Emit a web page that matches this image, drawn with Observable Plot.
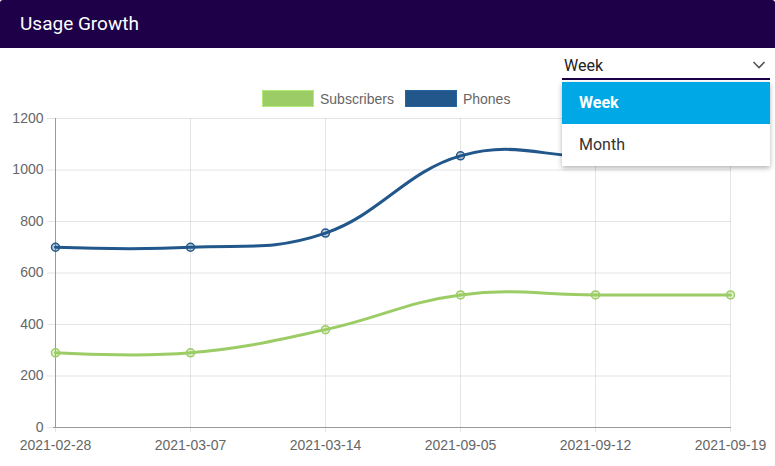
<!DOCTYPE html>
<html>
<head>
<meta charset="utf-8">
<script src="https://cdn.jsdelivr.net/npm/d3@7"></script>
<script src="https://cdn.jsdelivr.net/npm/@observablehq/plot@0.6"></script>
<style>
  html, body { margin: 0; padding: 0; background: #fff; }
  body { width: 775px; height: 466px; position: relative; overflow: hidden; font-family: Roboto, "Liberation Sans", Arial, sans-serif; }
  .header { position: absolute; left: 0; top: 0; width: 775px; height: 48px; background: #1d0047; border-radius: 3px 3px 0 0; }
  .header span { position: absolute; left: 20px; top: 12px; color: #fff; font-size: 19px; font-family: Roboto, sans-serif; }
  #chart { position: absolute; left: 0; top: 48px; }
  .legend { position: absolute; top: 90px; left: 262px; font-family: "Liberation Sans", Arial, sans-serif; font-size: 14px; color: #666; display: flex; align-items: center; }
  .legend .sw { width: 52px; height: 17px; display: inline-block; margin-right: 6px; box-sizing: border-box; }
  .legend .item { display: flex; align-items: center; margin-right: 11px; }
  .select { position: absolute; left: 562px; top: 54px; width: 208px; height: 24px; border-bottom: 2px solid #1d0047; font-family: Roboto, sans-serif; font-size: 16px; color: #222; }
  .select .val { position: absolute; left: 2px; top: 2px; }
  .select svg { position: absolute; right: 4px; top: 6px; }
  .menu { position: absolute; left: 562px; top: 82px; width: 208px; height: 84px; background: #fff; box-shadow: 0 2px 5px rgba(0,0,0,0.3); font-family: Roboto, sans-serif; font-size: 16px; }
  .menu .opt { height: 42px; line-height: 42px; padding-left: 17px; color: #333; }
  .menu .opt.sel { background: #00a9e6; color: #fff; font-weight: bold; }
</style>
</head>
<body>
<div class="header"><span>Usage Growth</span></div>
<div id="chart"></div>
<div class="legend" id="legend"></div>
<div class="select"><span class="val">Week</span>
  <svg width="14" height="10" viewBox="0 0 14 10"><path d="M1.5 2 L7 7.5 L12.5 2" fill="none" stroke="#555" stroke-width="1.6"/></svg>
</div>
<div class="menu"><div class="opt sel">Week</div><div class="opt">Month</div></div>
<script>
const weeks = ["2021-02-28", "2021-03-07", "2021-03-14", "2021-09-05", "2021-09-12", "2021-09-19"];
const subscribers = [290, 290, 380, 515, 515, 515];
const phones = [700, 700, 755, 1055, 1050, 1050];
const seriesNames = ["Subscribers", "Phones"];
const seriesColors = ["#9ccc65", "#21578a"];
const yTicks = [0, 200, 400, 600, 800, 1000, 1200];

const rows = [];
weeks.forEach((w, i) => {
  rows.push({week: w, value: subscribers[i], series: seriesNames[0]});
  rows.push({week: w, value: phones[i], series: seriesNames[1]});
});

const colorScale = {domain: seriesNames, range: seriesColors};

const plot = Plot.plot({
  width: 775,
  height: 418,
  marginTop: 70,
  marginBottom: 39,
  marginLeft: 53,
  marginRight: 44,
  style: {fontFamily: "'Liberation Sans', Arial, sans-serif", fontSize: "14px", color: "#666", background: "transparent"},
  x: {type: "point", domain: weeks, padding: 0, label: null},
  y: {domain: [0, 1200], label: null},
  color: colorScale,
  marks: [
    Plot.gridY(yTicks, {stroke: "#000", strokeOpacity: 0.1, insetLeft: -6}),
    Plot.gridX(weeks, {stroke: "#000", strokeOpacity: 0.1, insetBottom: -5}),
    Plot.ruleX([weeks[0]], {stroke: "#999", strokeWidth: 1}),
    Plot.ruleY([0], {stroke: "#999", strokeWidth: 1}),
    Plot.axisY(yTicks, {tickSize: 6, tickPadding: 4, strokeOpacity: 0, fill: "#666", fontSize: 14, tickFormat: d => String(d)}),
    Plot.axisX(weeks, {tickSize: 5, tickPadding: 8, strokeOpacity: 0, fill: "#666", fontSize: 14}),
    Plot.line(rows, {x: "week", y: "value", z: "series", stroke: "series", strokeWidth: 3, curve: "cardinal", tension: -0.2}),
    Plot.dot(rows, {x: "week", y: "value", stroke: "series", fill: "series", fillOpacity: 0.3, r: 4, strokeWidth: 1.5})
  ]
});
document.getElementById("chart").appendChild(plot);

const legend = document.getElementById("legend");
seriesNames.forEach((n, i) => {
  const item = document.createElement("div");
  item.className = "item";
  const sw = document.createElement("span");
  sw.className = "sw";
  sw.style.background = seriesColors[i];
  sw.style.border = "1px solid " + d3.color(seriesColors[i]).brighter(0.4);
  item.appendChild(sw);
  const t = document.createElement("span");
  t.textContent = n;
  item.appendChild(t);
  legend.appendChild(item);
});
</script>
</body>
</html>
